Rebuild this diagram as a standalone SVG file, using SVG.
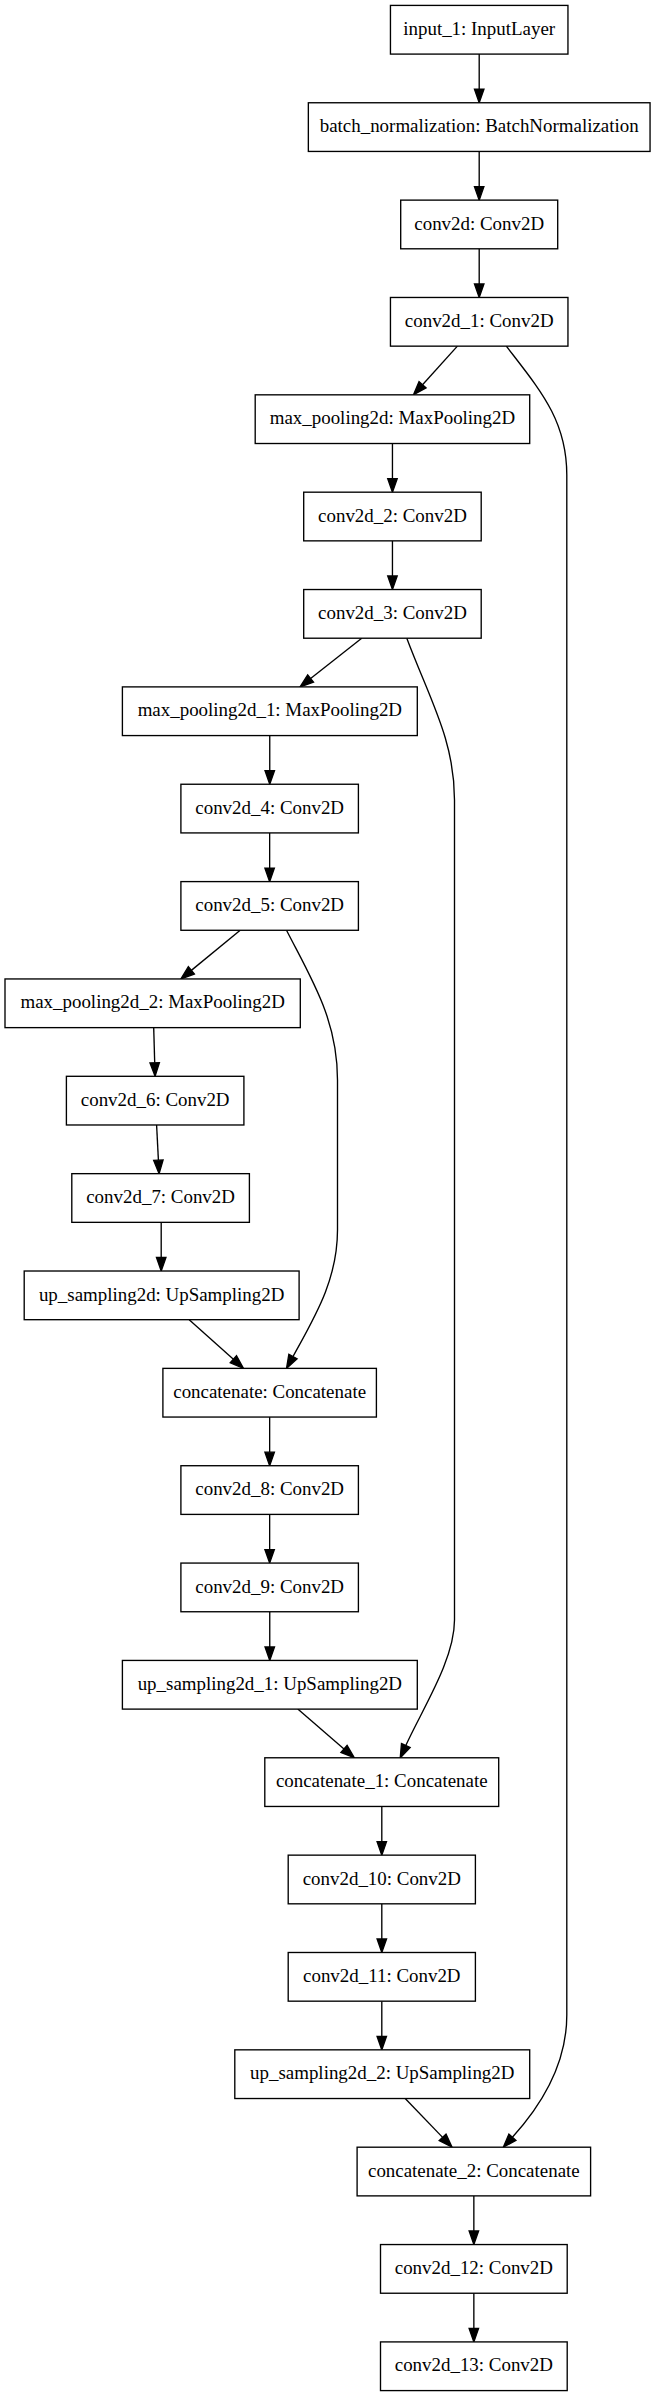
<svg xmlns="http://www.w3.org/2000/svg" width="655" height="2396" viewBox="0 0 655 2396">
<defs>
<style>
.node rect { fill: #ffffff; stroke: #000000; stroke-width: 1.35; }
.node text { font-family: "Liberation Serif", "Times New Roman", serif; font-size: 18.93px; text-anchor: middle; fill: #000000; }
.edge path { fill: none; stroke: #000000; stroke-width: 1.35; marker-end: url(#arrow); }
</style>
<marker id="arrow" markerUnits="userSpaceOnUse" markerWidth="16" markerHeight="12" refX="0" refY="0" orient="auto" overflow="visible">
<path d="M0,-4.73 L13.52,0 L0,4.73 Z" fill="#000000" stroke="#000000" stroke-width="1.35"/>
</marker>
</defs>
<rect x="0" y="0" width="655" height="2396" fill="#ffffff"/>
<g id="edges" class="edge">
<path d="M479.2,54.09 V89.24"/>
<path d="M479.2,151.44 V186.6"/>
<path d="M479.2,248.8 V283.95"/>
<path d="M457.4,346.15 L422.55,384.79"/>
<path d="M506.3,346.15 C540,390 566.8,420 566.8,475 V2015 C566.8,2065 539.4,2107.5 512.4,2137.2"/>
<path d="M392.45,443.51 V478.66"/>
<path d="M392.45,540.86 V576.01"/>
<path d="M361.7,638.21 L310.61,678.51"/>
<path d="M406.8,638.21 C430,700 454.5,740 454.5,800 V1620 C454.5,1660 422.3,1709 405.8,1745.5"/>
<path d="M269.75,735.57 V770.72"/>
<path d="M269.65,832.92 V868.08"/>
<path d="M240.2,930.28 L191.35,970.37"/>
<path d="M286.5,930.28 C312,980 337.5,1020 337.5,1080 V1230 C337.5,1280 314.6,1317 293,1356.5"/>
<path d="M153.7,1027.63 L154.7,1062.8"/>
<path d="M156.6,1124.98 L158.4,1160.15"/>
<path d="M161.2,1222.34 V1257.49"/>
<path d="M189.2,1319.69 L233.4,1359.3"/>
<path d="M269.65,1417.05 V1452.2"/>
<path d="M269.65,1514.4 V1549.55"/>
<path d="M269.75,1611.75 V1646.91"/>
<path d="M297.8,1709.11 L344,1748.9"/>
<path d="M381.8,1806.46 V1841.62"/>
<path d="M381.8,1903.82 V1938.97"/>
<path d="M381.8,2001.17 V2036.32"/>
<path d="M405.2,2098.52 L442.6,2137.4"/>
<path d="M473.85,2195.88 V2231.03"/>
<path d="M473.85,2293.23 V2328.39"/>
</g>
<g id="input_1" class="node"><rect x="390.45" y="5.41" width="177.5" height="48.68"/><text x="479.2" y="34.95">input_1: InputLayer</text></g>
<g id="batch_normalization" class="node"><rect x="308.35" y="102.76" width="341.7" height="48.68"/><text x="479.2" y="132.3">batch_normalization: BatchNormalization</text></g>
<g id="conv2d" class="node"><rect x="400.7" y="200.12" width="157" height="48.68"/><text x="479.2" y="229.66">conv2d: Conv2D</text></g>
<g id="conv2d_1" class="node"><rect x="390.45" y="297.47" width="177.5" height="48.68"/><text x="479.2" y="327.01">conv2d_1: Conv2D</text></g>
<g id="max_pooling2d" class="node"><rect x="255.2" y="394.83" width="274.5" height="48.68"/><text x="392.45" y="424.37">max_pooling2d: MaxPooling2D</text></g>
<g id="conv2d_2" class="node"><rect x="303.7" y="492.18" width="177.5" height="48.68"/><text x="392.45" y="521.72">conv2d_2: Conv2D</text></g>
<g id="conv2d_3" class="node"><rect x="303.7" y="589.53" width="177.5" height="48.68"/><text x="392.45" y="619.07">conv2d_3: Conv2D</text></g>
<g id="max_pooling2d_1" class="node"><rect x="122.4" y="686.89" width="294.9" height="48.68"/><text x="269.85" y="716.43">max_pooling2d_1: MaxPooling2D</text></g>
<g id="conv2d_4" class="node"><rect x="180.9" y="784.24" width="177.5" height="48.68"/><text x="269.65" y="813.78">conv2d_4: Conv2D</text></g>
<g id="conv2d_5" class="node"><rect x="180.9" y="881.6" width="177.5" height="48.68"/><text x="269.65" y="911.14">conv2d_5: Conv2D</text></g>
<g id="max_pooling2d_2" class="node"><rect x="5" y="978.95" width="295.3" height="48.68"/><text x="152.65" y="1008.49">max_pooling2d_2: MaxPooling2D</text></g>
<g id="conv2d_6" class="node"><rect x="66.4" y="1076.3" width="177.5" height="48.68"/><text x="155.15" y="1105.84">conv2d_6: Conv2D</text></g>
<g id="conv2d_7" class="node"><rect x="71.8" y="1173.66" width="177.6" height="48.68"/><text x="160.6" y="1203.2">conv2d_7: Conv2D</text></g>
<g id="up_sampling2d" class="node"><rect x="24.2" y="1271.01" width="274.9" height="48.68"/><text x="161.65" y="1300.55">up_sampling2d: UpSampling2D</text></g>
<g id="concatenate" class="node"><rect x="162.9" y="1368.37" width="213.5" height="48.68"/><text x="269.65" y="1397.91">concatenate: Concatenate</text></g>
<g id="conv2d_8" class="node"><rect x="180.9" y="1465.72" width="177.5" height="48.68"/><text x="269.65" y="1495.26">conv2d_8: Conv2D</text></g>
<g id="conv2d_9" class="node"><rect x="180.9" y="1563.07" width="177.5" height="48.68"/><text x="269.65" y="1592.61">conv2d_9: Conv2D</text></g>
<g id="up_sampling2d_1" class="node"><rect x="122.4" y="1660.43" width="294.9" height="48.68"/><text x="269.85" y="1689.97">up_sampling2d_1: UpSampling2D</text></g>
<g id="concatenate_1" class="node"><rect x="264.8" y="1757.78" width="233.9" height="48.68"/><text x="381.75" y="1787.32">concatenate_1: Concatenate</text></g>
<g id="conv2d_10" class="node"><rect x="288.2" y="1855.14" width="187.2" height="48.68"/><text x="381.8" y="1884.68">conv2d_10: Conv2D</text></g>
<g id="conv2d_11" class="node"><rect x="288.2" y="1952.49" width="187.2" height="48.68"/><text x="381.8" y="1982.03">conv2d_11: Conv2D</text></g>
<g id="up_sampling2d_2" class="node"><rect x="234.8" y="2049.84" width="294.9" height="48.68"/><text x="382.25" y="2079.38">up_sampling2d_2: UpSampling2D</text></g>
<g id="concatenate_2" class="node"><rect x="357.1" y="2147.2" width="233.5" height="48.68"/><text x="473.85" y="2176.74">concatenate_2: Concatenate</text></g>
<g id="conv2d_12" class="node"><rect x="380.5" y="2244.55" width="186.7" height="48.68"/><text x="473.85" y="2274.09">conv2d_12: Conv2D</text></g>
<g id="conv2d_13" class="node"><rect x="380.5" y="2341.91" width="186.7" height="48.68"/><text x="473.85" y="2371.45">conv2d_13: Conv2D</text></g>
</svg>
